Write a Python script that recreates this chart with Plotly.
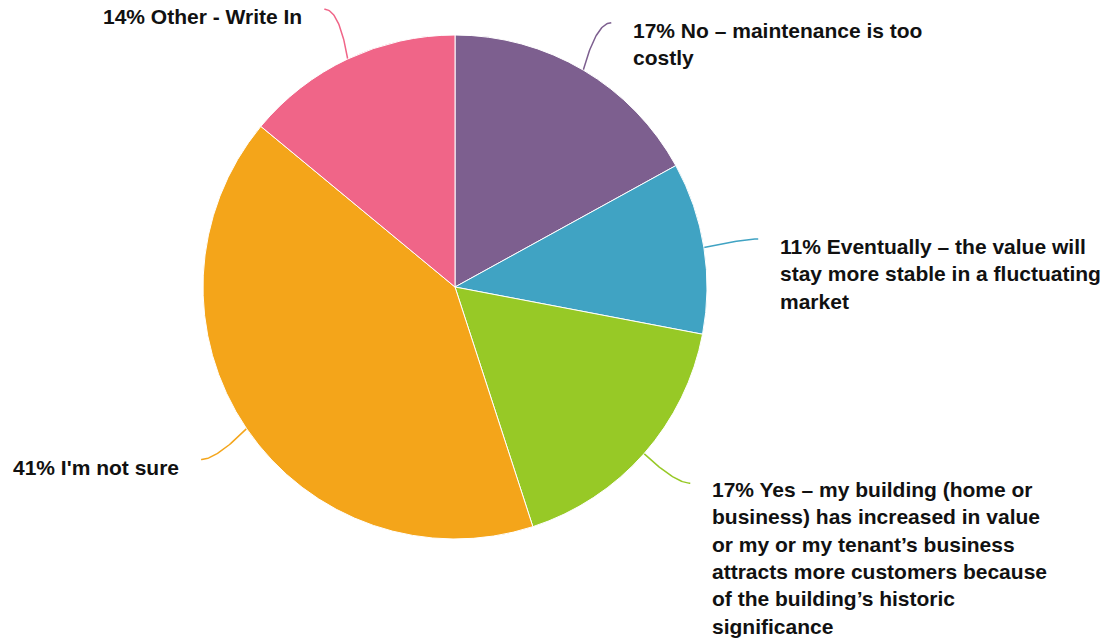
import numpy as np
import plotly.graph_objects as go

# ---- data ----
percents = [17, 11, 17, 41, 14]
answers = [
    "No – maintenance is too<br>costly",
    "Eventually – the value will<br>stay more stable in a fluctuating<br>market",
    "Yes – my building (home or<br>business) has increased in value<br>or my or my tenant’s business<br>attracts more customers because<br>of the building’s historic<br>significance",
    "I'm not sure",
    "Other - Write In",
]
colors = ["#7D5F8F", "#40A3C3", "#97C926", "#F4A51A", "#F06588"]

# ---- layout geometry ----
W, H = 1108, 640
cx, cy, R = 455, 287, 252
R_END = 307
LINE_H = 27.3
FONT = dict(family="Liberation Sans, Arial, sans-serif", size=21, color="#111111")

fig = go.Figure()
fig.add_trace(go.Pie(
    values=percents,
    labels=[a.replace("<br>", " ") for a in answers],
    marker=dict(colors=colors, line=dict(color="white", width=1)),
    sort=False, direction="clockwise", rotation=0,
    textinfo="none", hoverinfo="skip", showlegend=False,
    domain=dict(x=[(cx - R) / W, (cx + R) / W], y=[1 - (cy + R) / H, 1 - (cy - R) / H]),
))

total = float(sum(percents))
cum = np.cumsum([0] + percents[:-1])
annotations = []
for p, c0, name, col in zip(percents, cum, answers, colors):
    th = np.deg2rad(360.0 * (c0 + p / 2.0) / total)
    ux, uy = np.sin(th), -np.cos(th)
    side = 1 if ux >= 0 else -1
    nlines = name.count("<br>") + 1
    p0 = np.array([cx + R * ux, cy + R * uy])
    p2 = np.array([cx + R_END * ux, cy + R_END * uy])
    top = min(p2[1] - 6, H - nlines * LINE_H)
    if top != p2[1] - 6:
        p2 = np.array([p2[0] + side * 5, top + 7])
    p1 = np.array([p2[0] - side * 15, p2[1]])
    t = np.linspace(0, 1, 40)[:, None]
    pts = (1 - t) ** 2 * p0 + 2 * (1 - t) * t * p1 + t ** 2 * p2
    fig.add_trace(go.Scatter(x=pts[:, 0], y=pts[:, 1], mode="lines",
                             line=dict(color=col, width=1.5), hoverinfo="skip",
                             showlegend=False))
    annotations.append(dict(
        x=p2[0] + side * 20, y=top, xref="x", yref="y",
        xanchor="left" if side > 0 else "right", yanchor="top",
        align="left", showarrow=False,
        text=f"<b>{p}% {name}</b>", font=FONT,
    ))

fig.update_layout(
    width=W, height=H,
    margin=dict(l=0, r=0, t=0, b=0),
    paper_bgcolor="white", plot_bgcolor="white",
    xaxis=dict(range=[0, W], visible=False, fixedrange=True),
    yaxis=dict(range=[H, 0], visible=False, fixedrange=True),
    annotations=annotations,
)
fig.write_html("out.html", config={"displayModeBar": False},
               post_script="document.body.style.margin='0';")
